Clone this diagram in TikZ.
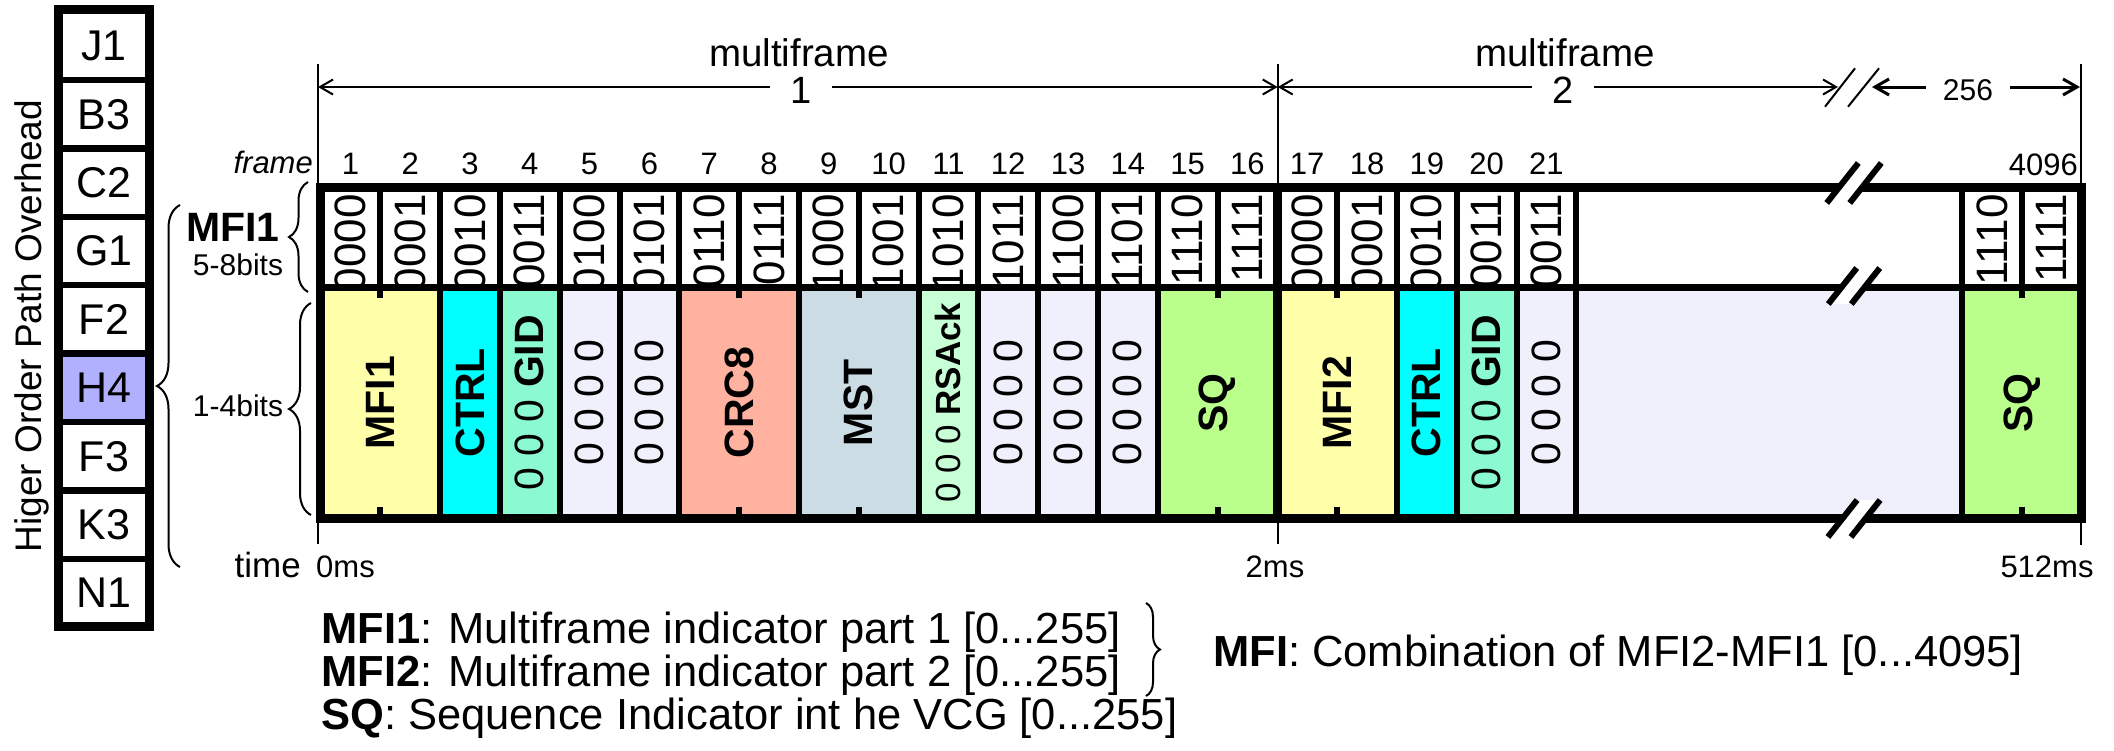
\documentclass[tikz,border=0pt]{standalone}
\usepackage{fontspec}
\setmainfont{Liberation Sans}
\usetikzlibrary{arrows.meta,decorations.pathreplacing}
\definecolor{cYel}{HTML}{FFFFAA}
\definecolor{cCyan}{HTML}{00FFFF}
\definecolor{cGid}{HTML}{8CFAD0}
\definecolor{cLav}{HTML}{F0F0FC}
\definecolor{cCrc}{HTML}{FFB2A0}
\definecolor{cMst}{HTML}{CCDCE4}
\definecolor{cRsa}{HTML}{C8FFD7}
\definecolor{cSq}{HTML}{BAFF8C}
\definecolor{cHfour}{HTML}{B0B0FF}
\newcommand{\fsz}[1]{\fontsize{#1}{#1}\selectfont}
\newcommand{\fx}[1]{320.5+59.8*(#1)}
\newcommand{\bcell}[5]{%
  \fill[#4] ({\fx{#2}},287.5) rectangle ({\fx{#3}},518);
  \node[btext] (#1) at ({\fx{(#2+#3)/2}},402.75) {#5};}
\newcommand{\brk}[3]{%
  \fill[white] ({#1-11.5-0.79*#3},{#2+#3}) -- ({#1-11.5+0.79*#3},{#2-#3}) -- ({#1+11.5+0.79*#3},{#2-#3}) -- ({#1+11.5-0.79*#3},{#2+#3}) -- cycle;
  \draw[line width=6] ({#1-11.5-0.79*#3},{#2+#3}) -- ({#1-11.5+0.79*#3},{#2-#3}) ({#1+11.5-0.79*#3},{#2+#3}) -- ({#1+11.5+0.79*#3},{#2-#3});}
\begin{document}
\begin{tikzpicture}[x=1pt,y=-1pt,
  ohtext/.style={inner sep=0pt,font=\fsz{43}},
  btext/.style={rotate=90,inner sep=0pt,font=\fsz{41}},
  bittext/.style={rotate=90,anchor=east,inner sep=0pt,font=\fsz{44}},
  flabel/.style={anchor=base,inner sep=0pt,font=\fsz{31}},
  divl/.style={line width=6},
  tline/.style={line width=2},
  brc/.style={decorate,line width=2},
  mfarrow/.style={line width=2,{Straight Barb[length=13pt,width=15pt]}-{Straight Barb[length=13pt,width=15pt]}},
  lbl/.style={inner sep=0pt}
]
\useasboundingbox (0,0) rectangle (2114,750);

% ---------------- overhead column ----------------
\fill[cHfour] (58.5,355.5) rectangle (149.5,424);
\foreach \i in {0,...,7} \draw[line width=6.5] (58.5,{80+68.4*\i}) -- (149.5,{80+68.4*\i});
\draw[line width=9] (58.5,9.5) rectangle (149.5,626);
\foreach \t [count=\i from 0] in {J1,B3,C2,G1,F2,H4,F3,K3,N1}
  \node[ohtext] (oh\i) at (104,{80+68.4*(\i-0.5)}) {\t};
\node[rotate=90,anchor=base,inner sep=0pt,font=\fsz{37}] (hopo) at (41.5,326) {Higer Order Path Overhead};

% ---------------- timeline verticals ----------------
\coordinate (v0t) at (318,64);   \coordinate (v0b) at (318,544);
\coordinate (v1t) at (1277.7,64); \coordinate (v1b) at (1277.7,544);
\coordinate (v2t) at (2081,64);  \coordinate (v2b) at (2081,545);
\draw[tline] (v0t) -- (v0b);
\draw[tline] (v1t) -- (v1b);
\draw[tline] (v2t) -- (v2b);

% ---------------- bottom row fills & texts ----------------
\bcell{c1}{0}{2}{cYel}{\textbf{MFI1}}
\bcell{c3}{2}{3}{cCyan}{\textbf{CTRL}}
\bcell{c4}{3}{4}{cGid}{0 0 0 \textbf{GID}}
\bcell{c5}{4}{5}{cLav}{0 0 0 0}
\bcell{c6}{5}{6}{cLav}{0 0 0 0}
\bcell{c7}{6}{8}{cCrc}{\textbf{CRC8}}
\bcell{c9}{8}{10}{cMst}{\textbf{MST}}
\bcell{c11}{10}{11}{cRsa}{\fsz{35}0 0 0 \textbf{RSAck}}
\bcell{c12}{11}{12}{cLav}{0 0 0 0}
\bcell{c13}{12}{13}{cLav}{0 0 0 0}
\bcell{c14}{13}{14}{cLav}{0 0 0 0}
\bcell{c15}{14}{16}{cSq}{\textbf{SQ}}
\bcell{c17}{16}{18}{cYel}{\textbf{MFI2}}
\bcell{c19}{18}{19}{cCyan}{\textbf{CTRL}}
\bcell{c20}{19}{20}{cGid}{0 0 0 \textbf{GID}}
\bcell{c21}{20}{21}{cLav}{0 0 0 0}
\fill[cLav] ({\fx{21}},287.5) rectangle (1962,518);
\bcell{c4095}{27.45}{29.45}{cSq}{\textbf{SQ}}

% ---------------- top row bit strings ----------------
\begin{scope}
\clip ({\fx{0}},187) rectangle (2081.5,287.5);
\foreach \k/\b in {1/0000,2/0001,3/0010,4/0011,5/0100,6/0101,7/0110,8/0111,9/1000,10/1001,11/1010,12/1011,13/1100,14/1101,15/1110,16/1111,17/0000,18/0001,19/0010,20/0011,21/0011}
  \node[bittext] (b\k) at ({\fx{\k-0.5}},194) {\b};
\node[bittext] (b4095) at ({\fx{27.95}},194) {1110};
\node[bittext] (b4096) at ({\fx{28.95}},194) {1111};
\end{scope}

% ---------------- grid lines ----------------
\foreach \k in {1,...,15,17,18,19,20,21} \draw[divl] ({\fx{\k}},187) -- ({\fx{\k}},287.5);
\foreach \k in {2,3,4,5,6,8,10,11,12,13,14,18,19,20,21} \draw[divl] ({\fx{\k}},287.5) -- ({\fx{\k}},518);
\foreach \k in {1,7,9,15,17} \draw[divl] ({\fx{\k}},287.5) -- ({\fx{\k}},298) ({\fx{\k}},507) -- ({\fx{\k}},518);
\draw[line width=8.5] ({\fx{16}},187) -- ({\fx{16}},518);
\draw[divl] (1962,187) -- (1962,518);
\draw[divl] (2022,187) -- (2022,298) (2022,507) -- (2022,518);
\draw[line width=6.5] ({\fx{0}},287.5) -- (2081.5,287.5);
\draw[line width=9] ({\fx{0}},187) rectangle (2081.5,518);

% break marks
\brk{1854}{183}{20}
\brk{1854}{286}{18}
\brk{1854}{518.5}{18.5}

% ---------------- frame labels ----------------
\node[anchor=base east,inner sep=0pt,font=\fsz{31}\itshape] (frm) at (313,173) {frame};
\foreach \k in {1,...,21} \node[flabel] (fl\k) at ({\fx{\k-0.5}},174) {\k};
\node[anchor=base east,inner sep=0pt,font=\fsz{31}] (fl4096) at (2078,175) {4096};

% ---------------- multiframe arrows ----------------
\coordinate (a0) at (318,87);
\coordinate (a1) at (1277.7,87);
\coordinate (a2) at (1838,87);
\coordinate (a3) at (1872,87);
\coordinate (a4) at (2080,87);
\draw[mfarrow] (a0) -- (a1);
\draw[mfarrow] (a1) -- (a2);
\draw[line width=3,{Straight Barb[length=14pt,width=16pt]}-{Straight Barb[length=14pt,width=16pt]}] (a3) -- (a4);
\draw[line width=2] (1825,106.7) -- (1855,68.3) (1848,106.7) -- (1879,68.3);
\node[fill=white,inner xsep=20pt,inner ysep=2pt,font=\fsz{38}] (m1n) at (801,90) {1};
\node[fill=white,inner xsep=20pt,inner ysep=2pt,font=\fsz{38}] (m2n) at (1563,90) {2};
\node[fill=white,inner xsep=17pt,inner ysep=2pt,font=\fsz{30}] (m256) at (1968,90) {256};
\node[anchor=base,inner sep=0pt,font=\fsz{38.5}] (mf1) at (799,66) {multiframe};
\node[anchor=base,inner sep=0pt,font=\fsz{38.5}] (mf2) at (1565,66) {multiframe};

% ---------------- side labels & braces ----------------
\node[anchor=base,inner sep=0pt,font=\fsz{41}\bfseries] (lmfi) at (233,241.7) {MFI1};
\node[anchor=base,inner sep=0pt,font=\fsz{30}] (l58) at (238,275) {5-8bits};
\node[anchor=base,inner sep=0pt,font=\fsz{30}] (l14) at (238,416) {1-4bits};
\coordinate (br1a) at (308,292); \coordinate (br1b) at (308,182);
\coordinate (br2a) at (311,515); \coordinate (br2b) at (311,303);
\coordinate (br3a) at (180,567); \coordinate (br3b) at (180,205);
\draw[brc,decoration={brace,amplitude=19pt}] (br1a) -- (br1b);
\draw[brc,decoration={brace,amplitude=22pt}] (br2a) -- (br2b);
\draw[brc,decoration={brace,amplitude=23pt}] (br3a) -- (br3b);

% ---------------- time labels ----------------
\node[anchor=base east,inner sep=0pt,font=\fsz{35}] (tt) at (301,577) {time};
\node[anchor=base west,inner sep=0pt,font=\fsz{31}] (t0) at (316,577) {0ms};
\node[anchor=base,inner sep=0pt,font=\fsz{31}] (t2) at (1275,577) {2ms};
\node[anchor=base,inner sep=0pt,font=\fsz{31}] (t512) at (2047,577) {512ms};

% ---------------- legend ----------------
\node[anchor=base west,inner sep=0pt,font=\fsz{43.5}] (lg1) at (321,643) {\textbf{MFI1}: Multiframe indicator part 1 [0...255]};
\node[anchor=base west,inner sep=0pt,font=\fsz{43.5}] (lg2) at (321,686) {\textbf{MFI2}: Multiframe indicator part 2 [0...255]};
\node[anchor=base west,inner sep=0pt,font=\fsz{43.5}] (lg3) at (321,729) {\textbf{SQ}: Sequence Indicator int he VCG [0...255]};
\coordinate (lba) at (1146,603); \coordinate (lbb) at (1146,696);
\draw[brc,decoration={brace,amplitude=14pt}] (lba) -- (lbb);
\node[anchor=base west,inner sep=0pt,font=\fsz{43.5}] (lgm) at (1213,666) {\textbf{MFI}: Combination of MFI2-MFI1 [0...4095]};
\end{tikzpicture}
\end{document}
